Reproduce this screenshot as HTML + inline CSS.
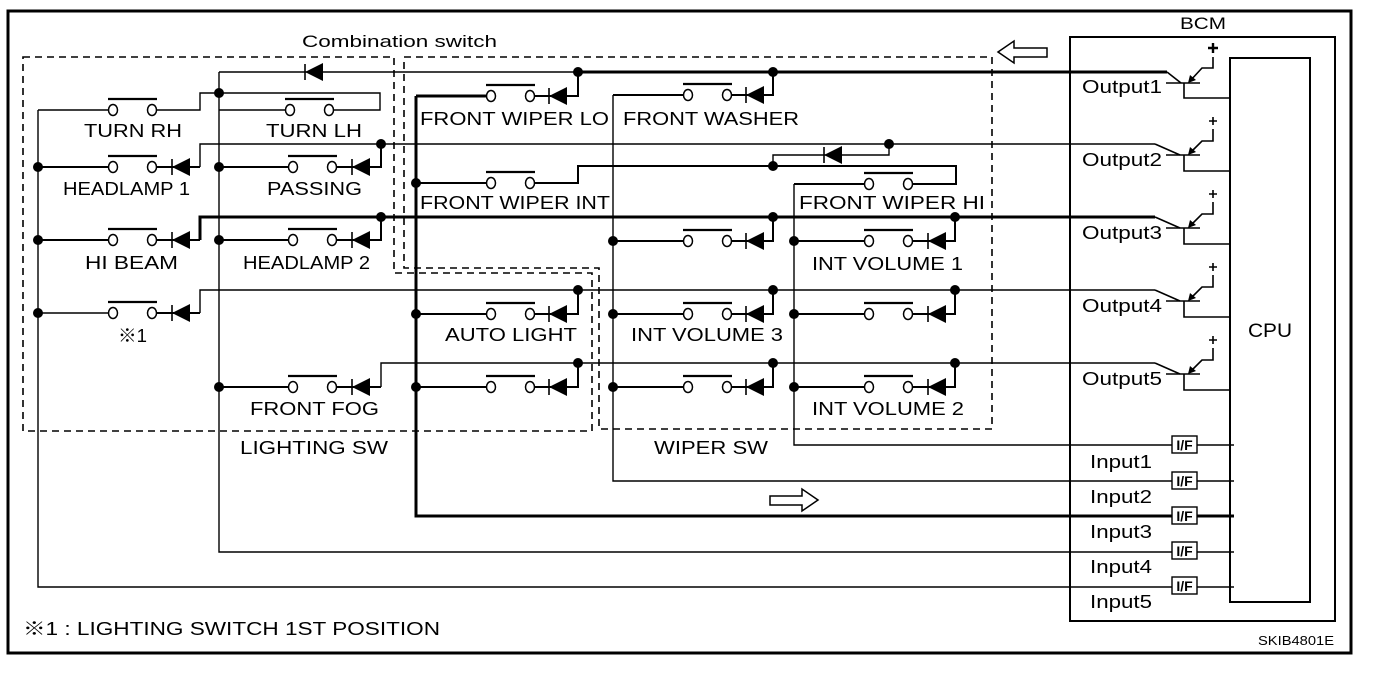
<!DOCTYPE html>
<html><head><meta charset="utf-8"><style>
html,body{margin:0;padding:0;background:#fff;}
svg{display:block;}
text{font-family:"Liberation Sans","Noto Sans CJK JP",sans-serif;fill:#000;}
</style></head><body>
<svg width="1376" height="674" viewBox="0 0 1376 674" xmlns="http://www.w3.org/2000/svg">
<defs>
<g id="sw" fill="#fff" stroke="#000" stroke-width="1.5">
  <ellipse cx="0" cy="0" rx="4.5" ry="5.5"/>
  <ellipse cx="39" cy="0" rx="4.5" ry="5.5"/>
  <line x1="-5" y1="-11" x2="44" y2="-11" stroke-width="2.2"/>
</g>
<g id="dio">
  <line x1="0" y1="-8" x2="0" y2="8" stroke="#000" stroke-width="1.6"/>
  <polygon points="0,0 18,-9 18,9" fill="#000"/>
</g>
<g id="dot"><circle r="5" fill="#000"/></g>
</defs>

<rect x="8" y="11" width="1343" height="642" fill="none" stroke="#000" stroke-width="3"/>

<g fill="none" stroke="#000" stroke-width="1.6" stroke-dasharray="7,5">
  <path d="M23,57 H394 V273 H592 V431 H23 Z"/>
  <path d="M404,57 H992 V429 H599 V268 H404 Z"/>
</g>

<text x="302" y="47" font-size="17" textLength="195" lengthAdjust="spacingAndGlyphs">Combination switch</text>

<g fill="none" stroke="#000" stroke-width="1.4">
  <path d="M219,72 H578"/>
  <path d="M219,72 V552 H1234"/>
  <path d="M38,110 V587 H1234"/>
  <path d="M113,110 H38"/>
  <path d="M290,110 H219"/>
  <path d="M152,110 H200 V93 H380 V110 H332"/>
  <path d="M200,167 V144 H1155"/>
  <path d="M200,313 V290 H1155"/>
  <path d="M381,387 V363 H1155"/>
  <path d="M613,95 V481 H1234"/>
  <path d="M794,184 V445 H1234"/>
  <path d="M889,144 V155 H773 V166"/>
  <path d="M113,313 H38"/>
</g>
<g fill="none" stroke="#000" stroke-width="3">
  <path d="M578,72 H1167"/>
  <path d="M200,240 V217 H1155"/>
  <path d="M416,96 V516 H1234"/>
  <path d="M416,96 H491"/>
</g>
<g fill="none" stroke="#000" stroke-width="2">
  <path d="M38,167 H113"/><path d="M152,167 H200"/>
  <path d="M219,167 H290"/><path d="M332,167 H381 V144"/>
  <path d="M38,240 H113"/><path d="M152,240 H200"/>
  <path d="M219,240 H290"/><path d="M332,240 H381 V217"/>
  <path d="M152,313 H200"/>
  <path d="M219,387 H290"/><path d="M332,387 H381"/>
  <path d="M530,96 H578 V72"/>
  <path d="M416,183 H491"/><path d="M530,183 H578 V166 H956 V184 H908"/>
  <path d="M613,95 H688"/><path d="M727,95 H773 V72"/>
  <path d="M794,184 H869"/>
  <path d="M416,314 H491"/><path d="M530,314 H578 V290"/>
  <path d="M416,387 H491"/><path d="M530,387 H578 V363"/>
  <path d="M613,241 H688"/><path d="M727,241 H773 V217"/>
  <path d="M613,314 H688"/><path d="M727,314 H773 V290"/>
  <path d="M613,387 H688"/><path d="M727,387 H773 V363"/>
  <path d="M794,241 H869"/><path d="M908,241 H955 V217"/>
  <path d="M794,314 H869"/><path d="M908,314 H955 V290"/>
  <path d="M794,387 H869"/><path d="M908,387 H955 V363"/>
</g>

<use href="#sw" x="113" y="110"/><use href="#sw" x="290" y="110"/>
<use href="#sw" x="113" y="167"/><use href="#sw" x="293" y="167"/>
<use href="#sw" x="113" y="240"/><use href="#sw" x="293" y="240"/>
<use href="#sw" x="113" y="313"/><use href="#sw" x="293" y="387"/>
<use href="#sw" x="491" y="96"/><use href="#sw" x="491" y="183"/>
<use href="#sw" x="491" y="314"/><use href="#sw" x="491" y="387"/>
<use href="#sw" x="688" y="95"/><use href="#sw" x="688" y="241"/>
<use href="#sw" x="688" y="314"/><use href="#sw" x="688" y="387"/>
<use href="#sw" x="869" y="184"/><use href="#sw" x="869" y="241"/>
<use href="#sw" x="869" y="314"/><use href="#sw" x="869" y="387"/>

<use href="#dio" x="172" y="167"/><use href="#dio" x="352" y="167"/>
<use href="#dio" x="172" y="240"/><use href="#dio" x="352" y="240"/>
<use href="#dio" x="172" y="313"/><use href="#dio" x="352" y="387"/>
<use href="#dio" x="549" y="96"/><use href="#dio" x="549" y="314"/><use href="#dio" x="549" y="387"/>
<use href="#dio" x="746" y="95"/><use href="#dio" x="746" y="241"/><use href="#dio" x="746" y="314"/><use href="#dio" x="746" y="387"/>
<use href="#dio" x="928" y="241"/><use href="#dio" x="928" y="314"/><use href="#dio" x="928" y="387"/>
<use href="#dio" x="305" y="72"/>
<use href="#dio" x="824" y="155"/>

<use href="#dot" x="219" y="93"/>
<use href="#dot" x="578" y="72"/><use href="#dot" x="773" y="72"/>
<use href="#dot" x="381" y="144"/><use href="#dot" x="889" y="144"/>
<use href="#dot" x="773" y="166"/>
<use href="#dot" x="381" y="217"/><use href="#dot" x="773" y="217"/><use href="#dot" x="955" y="217"/>
<use href="#dot" x="578" y="290"/><use href="#dot" x="773" y="290"/><use href="#dot" x="955" y="290"/>
<use href="#dot" x="578" y="363"/><use href="#dot" x="773" y="363"/><use href="#dot" x="955" y="363"/>
<use href="#dot" x="38" y="167"/><use href="#dot" x="38" y="240"/><use href="#dot" x="38" y="313"/>
<use href="#dot" x="219" y="167"/><use href="#dot" x="219" y="240"/><use href="#dot" x="219" y="387"/>
<use href="#dot" x="416" y="183"/><use href="#dot" x="416" y="314"/><use href="#dot" x="416" y="387"/>
<use href="#dot" x="613" y="241"/><use href="#dot" x="613" y="314"/><use href="#dot" x="613" y="387"/>
<use href="#dot" x="794" y="241"/><use href="#dot" x="794" y="314"/><use href="#dot" x="794" y="387"/>

<g font-size="18">
  <text x="84" y="137" textLength="98" lengthAdjust="spacingAndGlyphs">TURN RH</text>
  <text x="266" y="137" textLength="96" lengthAdjust="spacingAndGlyphs">TURN LH</text>
  <text x="63" y="195" textLength="127" lengthAdjust="spacingAndGlyphs">HEADLAMP 1</text>
  <text x="267" y="195" textLength="95" lengthAdjust="spacingAndGlyphs">PASSING</text>
  <text x="85" y="269" textLength="93" lengthAdjust="spacingAndGlyphs">HI BEAM</text>
  <text x="243" y="269" textLength="127" lengthAdjust="spacingAndGlyphs">HEADLAMP 2</text>
  <text x="118" y="342" textLength="29" lengthAdjust="spacingAndGlyphs">※1</text>
  <text x="250" y="415" textLength="129" lengthAdjust="spacingAndGlyphs">FRONT FOG</text>
  <text x="240" y="454" textLength="148" lengthAdjust="spacingAndGlyphs">LIGHTING SW</text>
  <text x="445" y="341" textLength="132" lengthAdjust="spacingAndGlyphs">AUTO LIGHT</text>
  <text x="631" y="341" textLength="152" lengthAdjust="spacingAndGlyphs">INT VOLUME 3</text>
  <text x="812" y="270" textLength="151" lengthAdjust="spacingAndGlyphs">INT VOLUME 1</text>
  <text x="812" y="415" textLength="152" lengthAdjust="spacingAndGlyphs">INT VOLUME 2</text>
  <text x="654" y="454" textLength="114" lengthAdjust="spacingAndGlyphs">WIPER SW</text>
  <text x="420" y="125" textLength="189" lengthAdjust="spacingAndGlyphs">FRONT WIPER LO</text>
  <text x="623" y="125" textLength="176" lengthAdjust="spacingAndGlyphs">FRONT WASHER</text>
  <text x="420" y="209" textLength="190" lengthAdjust="spacingAndGlyphs">FRONT WIPER INT</text>
  <text x="799" y="209" textLength="186" lengthAdjust="spacingAndGlyphs">FRONT WIPER HI</text>
  <text x="23" y="635" textLength="417" lengthAdjust="spacingAndGlyphs">※1 : LIGHTING SWITCH 1ST POSITION</text>
</g>

<polygon points="998,52 1014,41 1014,48 1047,48 1047,57 1014,57 1014,63" fill="#fff" stroke="#000" stroke-width="1.5"/>
<polygon points="818,500 802,489 802,496 770,496 770,505 802,505 802,511" fill="#fff" stroke="#000" stroke-width="1.5"/>

<rect x="1070" y="37" width="265" height="584" fill="none" stroke="#000" stroke-width="2"/>
<text x="1180" y="29" font-size="17" textLength="46" lengthAdjust="spacingAndGlyphs">BCM</text>
<rect x="1230" y="58" width="80" height="544" fill="none" stroke="#000" stroke-width="2"/>
<text x="1248" y="337" font-size="19" textLength="44" lengthAdjust="spacingAndGlyphs">CPU</text>

<g fill="none" stroke="#000" stroke-width="1.6">
  <path d="M1167,72 L1181,83"/><path d="M1166,83 H1200"/>
  <path d="M1184,83 V98 H1230"/><path d="M1190,81 L1202,68 H1213 V57"/>
  <path d="M1155,144 L1180,155"/><path d="M1166,155 H1200"/>
  <path d="M1184,155 V171 H1230"/><path d="M1190,153 L1202,141 H1213 V129"/>
  <path d="M1155,217 L1180,228"/><path d="M1166,228 H1200"/>
  <path d="M1184,228 V244 H1230"/><path d="M1190,226 L1202,214 H1213 V202"/>
  <path d="M1155,290 L1180,301"/><path d="M1166,301 H1200"/>
  <path d="M1184,301 V317 H1230"/><path d="M1190,299 L1202,287 H1213 V275"/>
  <path d="M1155,363 L1180,374"/><path d="M1166,374 H1200"/>
  <path d="M1184,374 V390 H1230"/><path d="M1190,372 L1202,360 H1213 V348"/>
  <path d="M1208,48 H1218 M1213,43 V53" stroke-width="2.4"/>
  <path d="M1209,121 H1217 M1213,117 V125"/>
  <path d="M1209,194 H1217 M1213,190 V198"/>
  <path d="M1209,267 H1217 M1213,263 V271"/>
  <path d="M1209,340 H1217 M1213,336 V344"/>
</g>
<g fill="#000">
  <polygon points="1188,83 1190,75 1196,80"/>
  <polygon points="1188,155 1190,147 1196,152"/>
  <polygon points="1188,228 1190,220 1196,225"/>
  <polygon points="1188,301 1190,293 1196,298"/>
  <polygon points="1188,374 1190,366 1196,371"/>
</g>
<g font-size="18">
  <text x="1082" y="93" textLength="80" lengthAdjust="spacingAndGlyphs">Output1</text>
  <text x="1082" y="166" textLength="80" lengthAdjust="spacingAndGlyphs">Output2</text>
  <text x="1082" y="239" textLength="80" lengthAdjust="spacingAndGlyphs">Output3</text>
  <text x="1082" y="312" textLength="80" lengthAdjust="spacingAndGlyphs">Output4</text>
  <text x="1082" y="385" textLength="80" lengthAdjust="spacingAndGlyphs">Output5</text>
  <text x="1090" y="468" textLength="62" lengthAdjust="spacingAndGlyphs">Input1</text>
  <text x="1090" y="503" textLength="62" lengthAdjust="spacingAndGlyphs">Input2</text>
  <text x="1090" y="538" textLength="62" lengthAdjust="spacingAndGlyphs">Input3</text>
  <text x="1090" y="573" textLength="62" lengthAdjust="spacingAndGlyphs">Input4</text>
  <text x="1090" y="608" textLength="62" lengthAdjust="spacingAndGlyphs">Input5</text>
</g>
<g>
  <rect x="1172" y="436" width="25" height="17" fill="#fff" stroke="#000" stroke-width="1.4"/>
  <rect x="1172" y="472" width="25" height="17" fill="#fff" stroke="#000" stroke-width="1.4"/>
  <rect x="1172" y="507" width="25" height="17" fill="#fff" stroke="#000" stroke-width="1.4"/>
  <rect x="1172" y="542" width="25" height="17" fill="#fff" stroke="#000" stroke-width="1.4"/>
  <rect x="1172" y="577" width="25" height="17" fill="#fff" stroke="#000" stroke-width="1.4"/>
</g>
<g font-size="14" text-anchor="middle" font-weight="bold">
  <text x="1184.5" y="450">I/F</text>
  <text x="1184.5" y="486">I/F</text>
  <text x="1184.5" y="521">I/F</text>
  <text x="1184.5" y="556">I/F</text>
  <text x="1184.5" y="591">I/F</text>
</g>
<text x="1258" y="645" font-size="13" textLength="76" lengthAdjust="spacingAndGlyphs">SKIB4801E</text>
</svg>
</body></html>
